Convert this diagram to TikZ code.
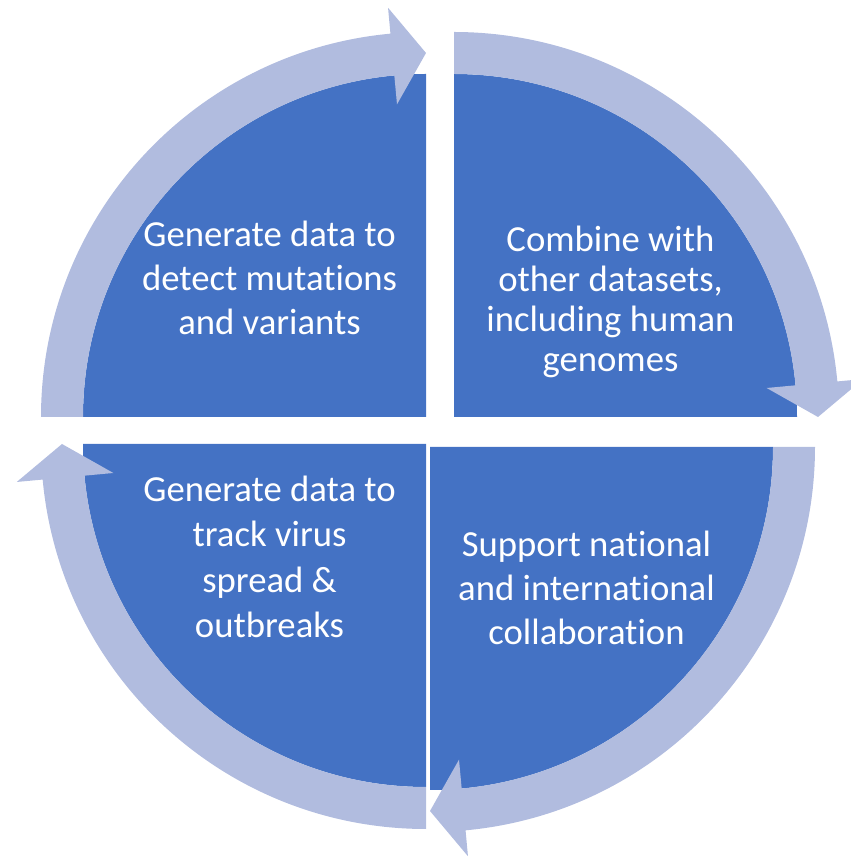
\documentclass[tikz,border=0pt]{standalone}
\usepackage{fontspec}
\setmainfont[Ligatures=NoCommon]{Carlito}
\definecolor{cycleblue}{HTML}{4472C4}
\definecolor{ringblue}{HTML}{B1BCDF}
\begin{document}
\begin{tikzpicture}[x=1pt,y=1pt,
	sector/.style={fill=cycleblue},
	ring/.style={fill=ringblue},
	cyctext/.style={text=white, align=center, anchor=base, inner sep=0pt}]
	\useasboundingbox (0,0) rectangle (851,857);
	
	% Cuadrantes azules
	\foreach \cx/\cy/\a in {426/440/180, 454/440/90, 430/410/0, 426/413/-90}
		\fill[sector] (\cx,\cy) -- ++(\a:343) arc[start angle=\a, delta angle=-90, radius=343] -- cycle;
	
	% Flechas circulares por encima
	\foreach \cx/\cy/\a in {426/440/180, 454/440/90, 430/410/0, 426/413/-90}{
		\begin{scope}[shift={(\cx,\cy)}]
			\fill[ring] (\a:385) arc[start angle=\a, delta angle=-84.7, radius=385]
				-- ({\a-84.7}:411) -- ({\a-90}:364) -- ({\a-84.7}:314)
				-- ({\a-84.7}:343) arc[start angle={\a-84.7}, end angle=\a, radius=343] -- cycle;
		\end{scope}
	}
	
	% Textos (base = ultima linea)
	\node[cyctext, font={\fontsize{36.7}{44}\selectfont}] (detect) at (269.5,522) {Generate data to\\detect mutations\\and variants};
	\node[cyctext, font={\fontsize{36.7}{40}\selectfont}] (combine) at (610.5,485) {Combine with\\other datasets,\\including human\\genomes};
	\node[cyctext, font={\fontsize{36.7}{44}\selectfont}] (support) at (586.5,212) {Support national\\and international\\collaboration};
	\node[cyctext, font={\fontsize{36.7}{45.5}\selectfont}] (track) at (269.5,219) {Generate data to\\track virus\\spread \&\\outbreaks};
	
\end{tikzpicture}
\end{document}
